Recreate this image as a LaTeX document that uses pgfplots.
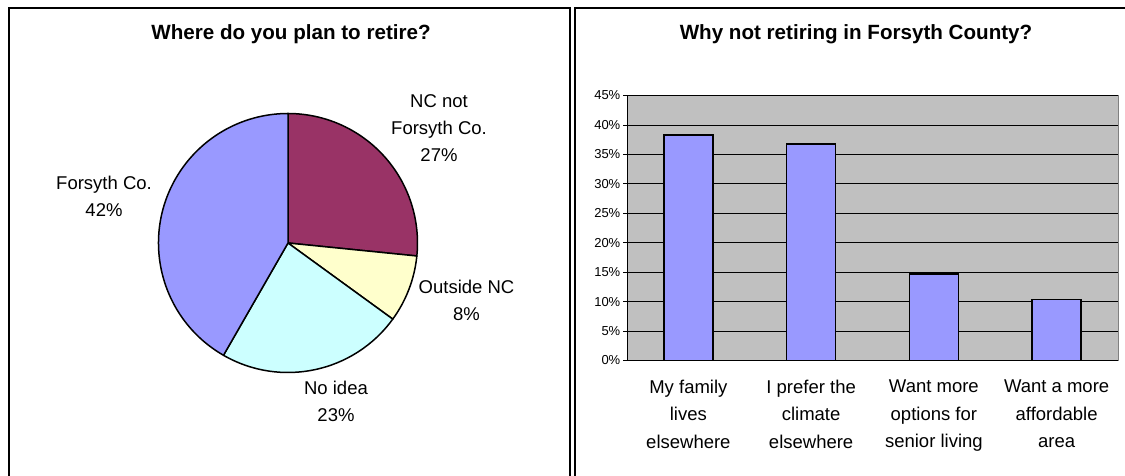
\documentclass[border=0pt]{standalone}
\usepackage{fontspec}
\setmainfont{Liberation Sans}
\usepackage{pgfplots}
\usepackage{pgfplotstable}
\pgfplotsset{compat=1.18}
\definecolor{pieA}{HTML}{993366}
\definecolor{pieB}{HTML}{FFFFCC}
\definecolor{pieC}{HTML}{CCFFFF}
\definecolor{pieD}{HTML}{9999FF}
\definecolor{plotbg}{HTML}{C0C0C0}
\definecolor{barcol}{HTML}{9999FF}

\pgfplotstableread{
value color
26.6 pieA
8.4 pieB
23.3 pieC
41.7 pieD
}\pietable

\pgfplotstableread{
x y
0 38.3
1 36.8
2 14.7
3 10.4
}\bartable

\newcommand{\labfont}{\fontsize{18.5}{27}\selectfont}
\newcommand{\titfont}{\fontsize{20.6}{24}\selectfont\bfseries}

\begin{document}
\begin{tikzpicture}
\fill[white] (0,0) rectangle (1125pt,476pt);
\begin{scope}
\clip (0,0) rectangle (1125pt,476pt);
\draw[line width=2pt] (8.5pt,468pt) rectangle (569.5pt,-20pt);
\draw[line width=2pt] (574.5pt,468pt) rectangle (1140pt,-20pt);
\end{scope}

% ---------- Pie ----------
\begin{axis}[
  at={(288pt,233pt)}, anchor=center,
  width=259pt, height=259pt, scale only axis,
  xmin=-1, xmax=1, ymin=-1, ymax=1,
  hide axis, clip=false]
\pgfplotsextra{
  \pgfplotstablegetrowsof{\pietable}
  \pgfmathtruncatemacro{\lastrow}{\pgfplotsretval-1}
  \gdef\curang{90}
  \foreach \r in {0,...,\lastrow}{
    \pgfplotstablegetelem{\r}{value}\of{\pietable}\let\val\pgfplotsretval
    \pgfplotstablegetelem{\r}{color}\of{\pietable}\let\col\pgfplotsretval
    \pgfmathsetmacro{\endang}{\curang-3.6*\val}
    \filldraw[fill=\col, draw=black, line width=1.5pt, line join=round]
      (axis cs:0,0) -- (axis cs:{cos(\curang)},{sin(\curang)})
      arc[start angle=\curang, end angle=\endang, radius=129.5pt] -- cycle;
    \xdef\curang{\endang}
  }
}
\end{axis}

\node[font=\titfont] at (291pt,442pt) {Where do you plan to retire?};
\node[font=\labfont, align=center] at (439pt,347.5pt) {NC not\\Forsyth Co.\\27\%};
\node[font=\labfont, align=center] at (104pt,279.5pt) {Forsyth Co.\\42\%};
\node[font=\labfont, align=center] at (466.5pt,175.5pt) {Outside NC\\8\%};
\node[font=\labfont, align=center] at (336pt,74.5pt) {No idea\\23\%};

% ---------- Bars ----------
\node[font=\titfont] at (856pt,442pt) {Why not retiring in Forsyth County?};
\begin{axis}[
  at={(627pt,115.5pt)}, anchor=south west,
  width=491pt, height=265pt, scale only axis,
  xmin=-0.5, xmax=3.5, ymin=0, ymax=45,
  axis background/.style={fill=plotbg, draw=gray},
  axis x line*=bottom, axis y line*=left,
  axis line style={-, black, line width=1pt},
  tick align=outside,
  ytick={0,5,...,45},
  yticklabel={\pgfmathprintnumber{\tick}\%},
  /pgf/number format/assume math mode=true,
  yticklabel style={font=\fontsize{13}{15}\selectfont, inner sep=1.5pt, xshift=-1pt},
  ymajorgrids, major grid style={black, line width=0.8pt},
  major tick length=4pt,
  ytick style={black, line width=0.8pt},
  xtick={0,1,2,3},
  xticklabels={{My family\\lives\\elsewhere},{I prefer the\\climate\\elsewhere},{Want more\\options for\\senior living},{Want a more\\affordable\\area}},
  xticklabel style={font=\fontsize{18.5}{27.5}\selectfont, align=center, yshift=-12pt},
  xtick style={draw=none},
  extra x ticks={-0.5,0.5,1.5,2.5,3.5},
  extra x tick labels={},
  extra x tick style={xtick style={black, line width=0.8pt}, major tick length=5pt, grid=none},
  ]
\addplot[ybar, bar width=0.4, fill=barcol, draw=black, line width=1.5pt] table[x=x,y=y] {\bartable};
\end{axis}

\pgfresetboundingbox
\useasboundingbox (0,0) rectangle (1125pt,476pt);
\end{tikzpicture}
\end{document}
